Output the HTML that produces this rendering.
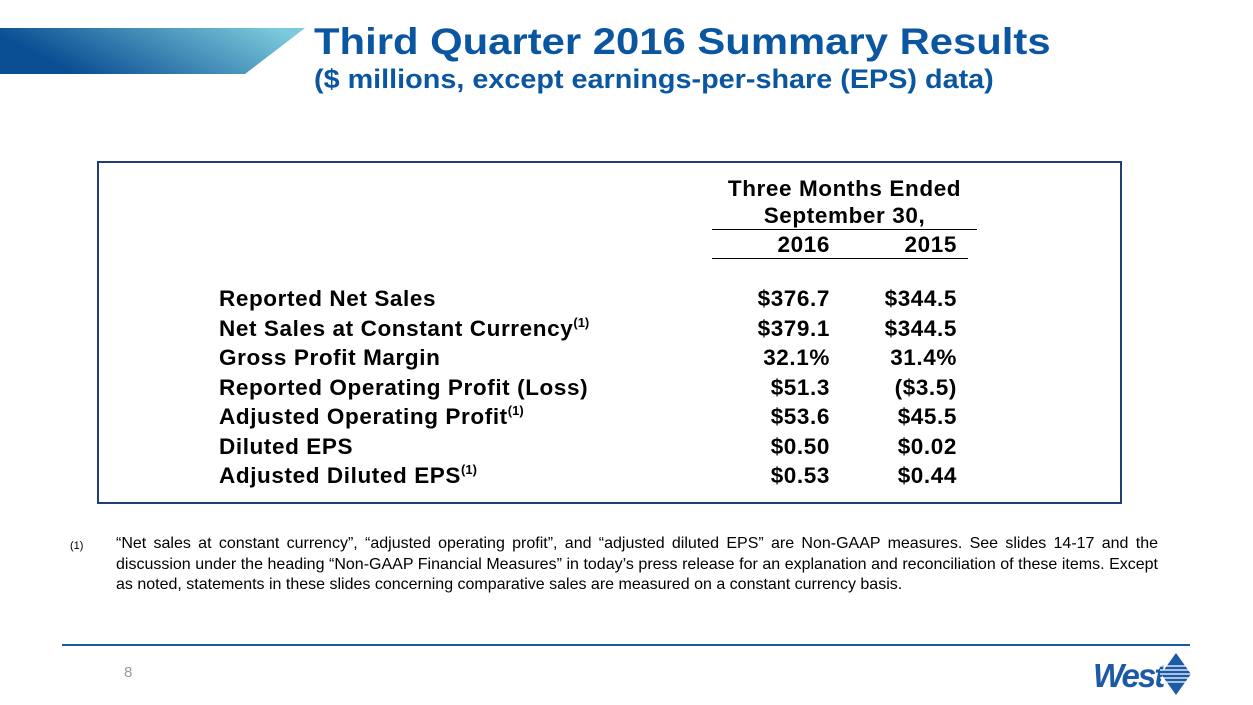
<!DOCTYPE html>
<html><head><style>
body{margin:0;width:1253px;height:705px;background:#fff;position:relative;overflow:hidden;font-family:"Liberation Sans",sans-serif}
.a{position:absolute;white-space:nowrap}
.t{font-weight:bold;color:#000;font-size:22.5px;letter-spacing:0.6px}
.r{text-align:right;width:120px}
sup{font-size:13px;vertical-align:9px;line-height:0;letter-spacing:0}
</style></head><body>
<svg class="a" style="left:0;top:27px" width="310" height="48">
<defs><linearGradient id="g" x1="0" y1="0.6" x2="1" y2="0.3"><stop offset="0.12" stop-color="#0a4f93"/><stop offset="1" stop-color="#7ccbdc"/></linearGradient></defs>
<polygon points="0,1 305,1 245,47 0,47" fill="url(#g)"/></svg>
<div class="a" style="left:314px;top:21px;font-size:37px;font-weight:bold;color:#0b56a1;transform:scaleX(1.13);transform-origin:0 0">Third Quarter 2016 Summary Results</div>
<div class="a" style="left:314px;top:64px;font-size:27px;font-weight:bold;color:#0b56a1;transform:scaleX(1.066);transform-origin:0 0">($ millions, except earnings-per-share (EPS) data)</div>
<div class="a" style="left:97px;top:161px;width:1021px;height:339px;border:2px solid #213f73"></div>
<div class="a t" style="left:712px;top:175px;width:265px;text-align:center;line-height:27px">Three Months Ended<br>September 30,</div>
<div class="a" style="left:712px;top:229px;width:265px;border-top:1.5px solid #000"></div>
<div class="a t r" style="left:710px;top:232px">2016</div>
<div class="a t r" style="left:837px;top:232px">2015</div>
<div class="a" style="left:712px;top:258px;width:256px;border-top:1.5px solid #000"></div>
<div id="rows"></div>
<div class="a" style="left:70px;top:534px;width:1088px;font-size:16px;line-height:20.5px;white-space:normal;color:#000">
<span style="position:absolute;left:0;top:2px;font-size:11px">(1)</span>
<div style="margin-left:46px;text-align:justify">“Net sales at constant currency”, “adjusted operating profit”, and “adjusted diluted EPS” are Non-GAAP measures. See slides 14-17 and the discussion under the heading “Non-GAAP Financial Measures” in today’s press release for an explanation and reconciliation of these items. Except as noted, statements in these slides concerning comparative sales are measured on a constant currency basis.</div></div>
<div class="a" style="left:62px;top:644px;width:1128px;height:2px;background:#1f5aa0"></div>
<div class="a" style="left:124px;top:664px;font-size:15px;color:#999">8</div>
<div class="a" style="left:1093px;top:657px;font-size:33px;font-weight:bold;font-style:italic;color:#1d5aa6;letter-spacing:-2px">West</div>
<svg class="a" style="left:1160px;top:652px" width="32" height="44"><polygon points="16,1 31,22 16,43 1,22" fill="#1d5aa6"/><g stroke="#fff" stroke-width="1.3"><line x1="0" y1="14" x2="32" y2="14"/><line x1="0" y1="18" x2="32" y2="18"/><line x1="0" y1="22" x2="32" y2="22"/><line x1="0" y1="26" x2="32" y2="26"/><line x1="0" y1="30" x2="32" y2="30"/></g></svg>
<script>
const labels=["Reported Net Sales","Net Sales at Constant Currency","Gross Profit Margin","Reported Operating Profit (Loss)","Adjusted Operating Profit","Diluted EPS","Adjusted Diluted EPS"];
const foot=[0,1,0,0,1,0,1];
const v2016=["$376.7","$379.1","32.1%","$51.3","$53.6","$0.50","$0.53"];
const v2015=["$344.5","$344.5","31.4%","($3.5)","$45.5","$0.02","$0.44"];
const R=document.getElementById('rows');
labels.forEach((l,i)=>{const y=286+i*29.5;
const a=document.createElement('div');a.className='a t';a.style.left='219px';a.style.top=y+'px';a.innerHTML=l+(foot[i]?'<sup>(1)</sup>':'');

R.appendChild(a);
[[v2016,710],[v2015,837]].forEach(([arr,x])=>{const d=document.createElement('div');d.className='a t r';d.style.left=x+'px';d.style.top=y+'px';d.textContent=arr[i];

R.appendChild(d);});});
</script>
</body></html>
